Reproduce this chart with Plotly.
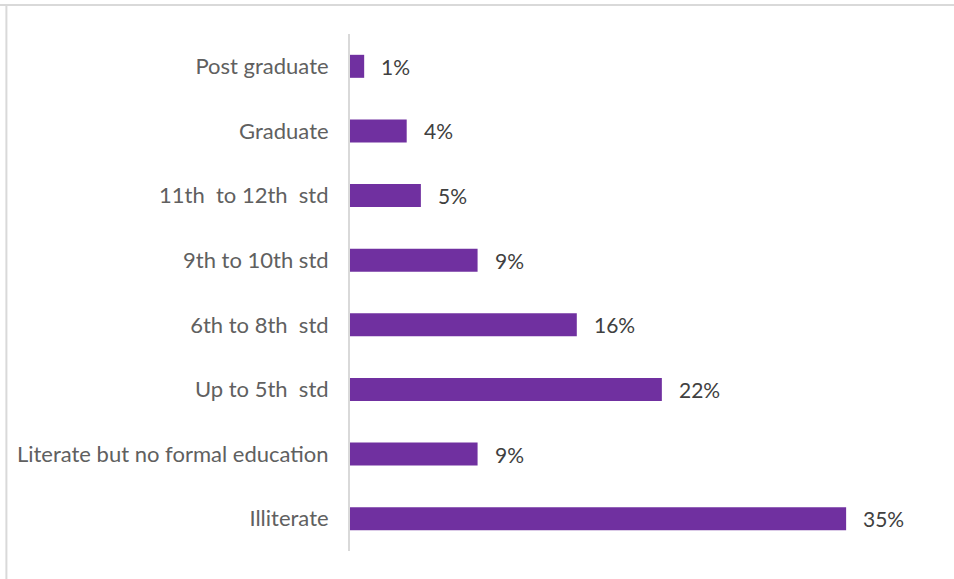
import plotly.graph_objects as go

# Education level distribution (share of respondents, %)
categories = [
    "Illiterate",
    "Literate but no formal education",
    "Up to 5th  std",
    "6th to 8th  std",
    "9th to 10th std",
    "11th  to 12th  std",
    "Graduate",
    "Post graduate",
]
values = [35, 9, 22, 16, 9, 5, 4, 1]
value_labels = [f"{v}%" for v in values]

BAR_COLOR = "#7030A0"
FONT = "Lato"
FRAME = "#D9D9D9"

fig = go.Figure(
    go.Bar(
        x=values,
        y=categories,
        orientation="h",
        marker=dict(color=BAR_COLOR, line=dict(width=0)),
        hoverinfo="skip",
    )
)

# value labels just past the end of each bar
for cat, v, lab in zip(categories, values, value_labels):
    fig.add_annotation(
        x=v, y=cat, text=lab, showarrow=False,
        xanchor="left", yanchor="middle", xshift=15,
        font=dict(family=FONT, size=21, color="#404040"),
    )

# chart frame: top and left edges
fig.add_shape(type="line", xref="paper", yref="paper",
              x0=-0.62, x1=1.07, y0=1.056, y1=1.056,
              line=dict(color=FRAME, width=2))
fig.add_shape(type="line", xref="paper", yref="paper",
              x0=-0.606, x1=-0.606, y0=1.056, y1=-0.06,
              line=dict(color=FRAME, width=2))

fig.update_layout(
    width=954, height=579,
    margin=dict(l=350, r=37, t=34, b=28),
    paper_bgcolor="white", plot_bgcolor="white",
    bargap=0.644,
    showlegend=False,
    xaxis=dict(
        range=[0, 40], visible=False, fixedrange=True,
    ),
    yaxis=dict(
        showline=True, linecolor=FRAME, linewidth=2,
        ticks="", ticklabelstandoff=15,
        tickfont=dict(family=FONT, size=22, color="#606060"),
        showgrid=False, zeroline=False,
    ),
)

fig.write_html("out.html")
